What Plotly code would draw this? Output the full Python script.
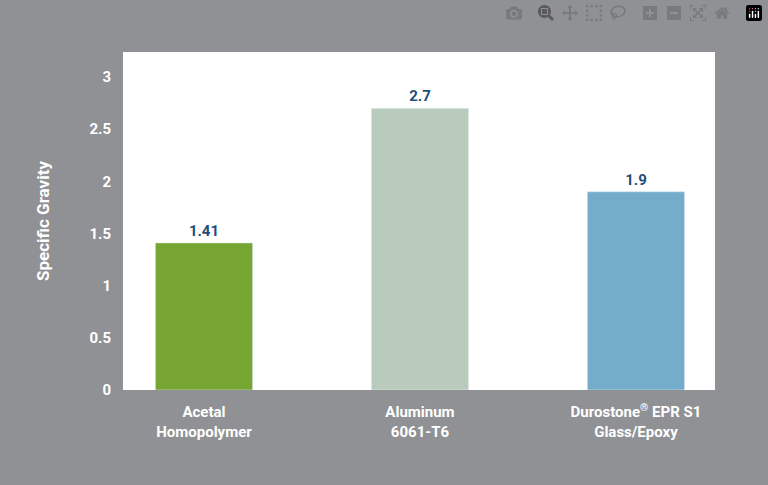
import plotly.graph_objects as go

categories = ["Acetal<br>Homopolymer", "Aluminum<br>6061-T6", "Durostone<sup>®</sup> EPR S1<br>Glass/Epoxy"]
values = [1.41, 2.7, 1.9]
labels = ["1.41", "2.7", "1.9"]
colors = ["#76a532", "#b9cbbd", "#74adca"]
xpos = [0, 1, 2]

fig = go.Figure(go.Bar(
    x=xpos, y=values, width=0.45, marker_color=colors,
    text=[f"<b>{t}</b>" for t in labels], textposition="outside",
    textfont=dict(color="#1f4e79", size=15, family="Roboto"),
    cliponaxis=False,
))
fig.update_layout(
    width=768, height=485,
    paper_bgcolor="#8f9194", plot_bgcolor="white",
    margin=dict(l=123, r=53, t=52, b=95),
    font=dict(family="Roboto", color="white", size=15),
    showlegend=False,
    xaxis=dict(range=[-0.375, 2.366], tickvals=xpos, ticktext=[f"<b>{c}</b>" for c in categories],
               showgrid=False, zeroline=False, ticks="outside", ticklen=8, tickcolor="rgba(0,0,0,0)",
               tickfont=dict(size=15, color="white")),
    yaxis=dict(range=[0, 3.24], tickvals=[0, 0.5, 1, 1.5, 2, 2.5, 3],
               ticktext=["<b>0</b>", "<b>0.5</b>", "<b>1</b>", "<b>1.5</b>", "<b>2</b>", "<b>2.5</b>", "<b>3</b>"],
               showgrid=False, zeroline=False, ticks="outside", ticklen=8, tickcolor="rgba(0,0,0,0)",
               title=dict(text="<b>Specific Gravity</b>", font=dict(size=17, color="white"), standoff=35),
               tickfont=dict(size=15, color="white")),
)
fig.update_traces(texttemplate="%{text}")
fig.write_html("out.html")
with open("out.html", encoding="utf-8") as f:
    html = f.read()
html = html.replace("<head>", "<head><style>html,body{margin:0;padding:0;background:#8f9194;}</style>", 1)
with open("out.html", "w", encoding="utf-8") as f:
    f.write(html)
